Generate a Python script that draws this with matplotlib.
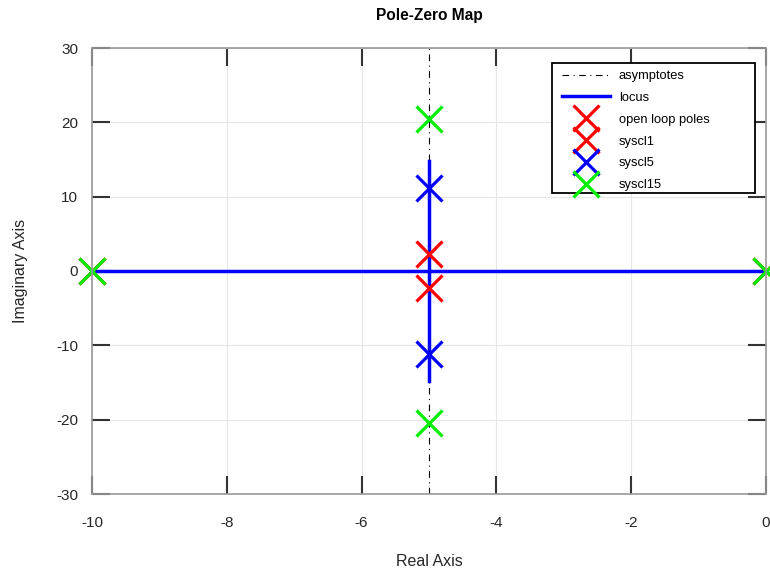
import matplotlib
matplotlib.use("Agg")
import matplotlib.pyplot as plt
from matplotlib.patches import Rectangle

plt.rcParams['font.family'] = ['Liberation Sans', 'DejaVu Sans']
plt.rcParams['axes.unicode_minus'] = False

# data
asym_x = [-5, -5]
asym_y = [-30, 30]
locus_real_x = [-10, 0]
locus_real_y = [0, 0]
locus_vert_x = [-5, -5]
locus_vert_y = [-14.8, 14.8]
ol_re = [-10, 0]
ol_im = [0, 0]
syscl1_re = [-5, -5]
syscl1_im = [2.3, -2.3]
syscl5_re = [-5, -5]
syscl5_im = [11.15, -11.15]
syscl15_re = [-10, 0, -5, -5]
syscl15_im = [0, 0, 20.5, -20.5]
xticks = [-10, -8, -6, -4, -2, 0]
yticks = [-30, -20, -10, 0, 10, 20, 30]

fig = plt.figure(figsize=(7.7, 5.7), dpi=100)
ax = fig.add_axes([92/770, 1-494/570, 674/770, 446/570])

ax.plot(asym_x, asym_y, color='black', lw=0.8, linestyle=(0, (6, 4, 1, 4)), label='asymptotes')
ax.plot(locus_real_x, locus_real_y, color='#0000ff', lw=2.5, label='locus', clip_on=False)
ax.plot(locus_vert_x, locus_vert_y, color='#0000ff', lw=2.5)
ms = 19
mew = 2.3
ax.plot(ol_re, ol_im, 'x', color='#ff0000', ms=ms, mew=mew, label='open loop poles', clip_on=False)
ax.plot(syscl1_re, syscl1_im, 'x', color='#ff0000', ms=ms, mew=mew, label='syscl1', clip_on=False)
ax.plot(syscl5_re, syscl5_im, 'x', color='#0000ff', ms=ms, mew=mew, label='syscl5', clip_on=False)
ax.plot(syscl15_re, syscl15_im, 'x', color='#00ee00', ms=ms, mew=mew, label='syscl15', clip_on=False)

ax.set_xlim(-10, 0)
ax.set_ylim(-30, 30)
ax.set_xticks(xticks)
ax.set_yticks(yticks)
ax.grid(True, color='#e6e6e6', lw=0.8)
ax.set_axisbelow(True)
ax.tick_params(direction='in', length=13, width=1.5, color='#333333', top=True, right=True,
               labelsize=11, labelcolor='#262626')
ax.tick_params(axis='x', pad=15.5)
ax.tick_params(axis='y', pad=10)
for s in ax.spines.values():
    s.set_color('#999999')
    s.set_linewidth(1.2)

ax.set_title('Pole-Zero Map', fontsize=11.2, fontweight='bold', pad=20.5)
ax.set_xlabel('Real Axis', fontsize=11.5, color='#262626', labelpad=17.5)
ax.set_ylabel('Imaginary Axis', fontsize=11.5, color='#262626', labelpad=20)

# legend frame (Octave style, wider than content)
lx0 = (552 - 92) / 674
lx1 = (755 - 92) / 674
ly0 = (494 - 193) / 446
ly1 = (494 - 63) / 446
ax.add_patch(Rectangle((lx0, ly0), lx1 - lx0, ly1 - ly0, transform=ax.transAxes,
                       facecolor='white', edgecolor='black', lw=1.3, zorder=4))
leg = ax.legend(loc='upper left', bbox_to_anchor=(lx0 + 10/674, ly1 - 7/446), borderaxespad=0,
                fontsize=9.3, numpoints=1, frameon=False, handlelength=3.7,
                labelspacing=0.76, borderpad=0, handletextpad=0.7)
leg.set_zorder(5)

fig.savefig('out.png', dpi=100)
